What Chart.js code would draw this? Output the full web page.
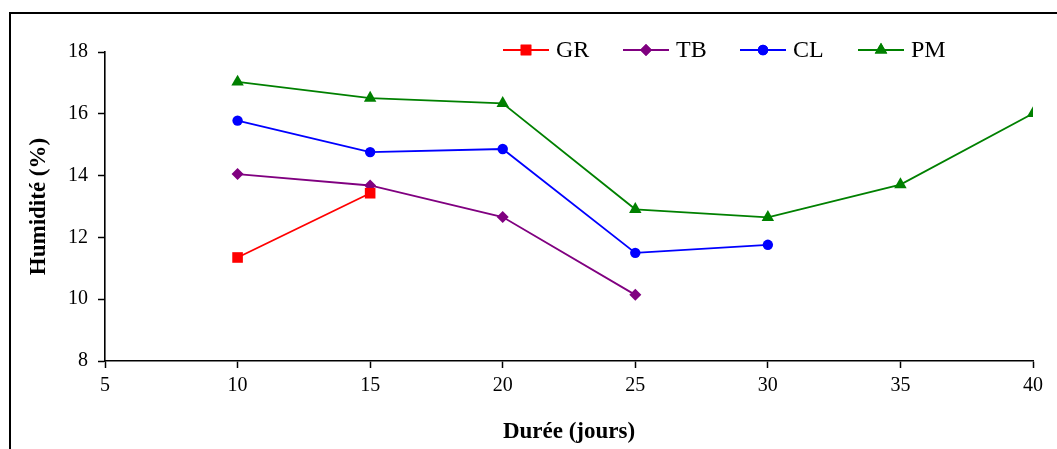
<!DOCTYPE html>
<html>
<head>
<meta charset="utf-8">
<script src="https://cdn.jsdelivr.net/npm/chart.js@4"></script>
<style>
  html, body { margin: 0; padding: 0; background: #fff; }
  #wrap { width: 1057px; height: 449px; position: relative; }
</style>
</head>
<body>
<div id="wrap"><canvas id="myChart" width="1057" height="449"></canvas></div>
<script>
// data
const jours = [10, 15, 20, 25, 30, 35, 40];
const GR = [11.35, 13.43, null, null, null, null, null];
const TB = [14.05, 13.68, 12.66, 10.14, null, null, null];
const CL = [15.78, 14.76, 14.86, 11.5, 11.76, null, null];
const PM = [17.03, 16.51, 16.34, 12.91, 12.65, 13.71, 16.01];
const seriesNames = ['GR', 'TB', 'CL', 'PM'];
const yTicks = [8, 10, 12, 14, 16, 18];
const xTicks = [5, 10, 15, 20, 25, 30, 35, 40];

const serif = "'Liberation Serif', 'Times New Roman', serif";

function toPoints(values) {
    return jours.map((j, i) => ({ x: j, y: values[i] })).filter(p => p.y !== null);
}

function makeSet(label, values, color, style, radius) {
    return {
        label: label,
        data: toPoints(values),
        borderColor: color,
        backgroundColor: color,
        borderWidth: 1.8,
        pointStyle: style,
        pointRadius: radius,
        pointHoverRadius: radius,
        pointBorderWidth: 0,
        tension: 0
    };
}

// frame around the figure
const framePlugin = {
    id: 'frame',
    beforeDraw(chart) {
        const ctx = chart.ctx;
        ctx.save();
        ctx.strokeStyle = '#000';
        ctx.lineWidth = 2;
        ctx.beginPath();
        ctx.moveTo(10, 2000);
        ctx.lineTo(10, 13);
        ctx.lineTo(2000, 13);
        ctx.stroke();
        ctx.restore();
    }
};

// legend drawn in a row inside the plot, like the original
const legendPlugin = {
    id: 'rowLegend',
    afterDraw(chart) {
        const ctx = chart.ctx;
        const starts = [503, 623, 740, 858];
        const y = 50;
        ctx.save();
        chart.data.datasets.forEach((ds, i) => {
            const x0 = starts[i];
            ctx.strokeStyle = ds.borderColor;
            ctx.lineWidth = 1.8;
            ctx.beginPath();
            ctx.moveTo(x0, y);
            ctx.lineTo(x0 + 46, y);
            ctx.stroke();
            ctx.fillStyle = ds.backgroundColor;
            Chart.helpers.drawPoint(ctx, { pointStyle: ds.pointStyle, radius: ds.pointRadius, rotation: 0, borderWidth: 0 }, x0 + 23, y);
            ctx.fill();
            ctx.fillStyle = '#000';
            ctx.font = '24px ' + serif;
            ctx.textBaseline = 'middle';
            ctx.fillText(ds.label, x0 + 53, y + 1);
        });
        ctx.restore();
    }
};

const ctx = document.getElementById('myChart').getContext('2d');
const chart = new Chart(ctx, {
    type: 'line',
    data: {
        datasets: [
            makeSet(seriesNames[0], GR, '#ff0000', 'rect', 7.5),
            makeSet(seriesNames[1], TB, '#800080', 'rectRot', 6),
            makeSet(seriesNames[2], CL, '#0000ff', 'circle', 5.2),
            makeSet(seriesNames[3], PM, '#008000', 'triangle', 7.2)
        ]
    },
    options: {
        responsive: false,
        animation: false,
        layout: { padding: { left: 12, right: 24, top: 52, bottom: 0 } },
        plugins: {
            legend: { display: false },
            tooltip: { enabled: false }
        },
        scales: {
            x: {
                type: 'linear',
                min: 5,
                max: 40,
                afterBuildTicks: s => { s.ticks = xTicks.map(v => ({ value: v })); },
                afterFit: s => { s.height = 88; },
                grid: { drawOnChartArea: false, tickLength: 7, color: '#000', tickWidth: 1.5 },
                border: { color: '#000', width: 1.6 },
                ticks: { color: '#000', font: { family: serif, size: 20 }, padding: 6, maxRotation: 0 },
                title: {
                    display: true,
                    text: 'Durée (jours)',
                    color: '#000',
                    font: { family: serif, size: 23, weight: 'bold' },
                    padding: { top: 0, bottom: 3 }
                }
            },
            y: {
                min: 8,
                max: 18,
                afterBuildTicks: s => { s.ticks = yTicks.map(v => ({ value: v })); },
                afterFit: s => { s.width = 93; },
                grid: { drawOnChartArea: false, tickLength: 7, color: '#000', tickWidth: 1.5 },
                border: { color: '#000', width: 1.6 },
                ticks: { color: '#000', font: { family: serif, size: 20 }, padding: 10 },
                title: {
                    display: true,
                    text: 'Humidité (%)',
                    color: '#000',
                    font: { family: serif, size: 23, weight: 'bold' },
                    padding: { top: 13, bottom: 0 }
                }
            }
        }
    },
    plugins: [framePlugin, legendPlugin]
});
</script>
</body>
</html>
